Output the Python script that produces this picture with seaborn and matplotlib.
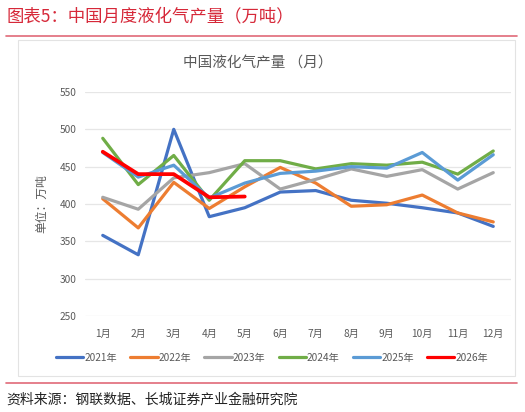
import matplotlib.pyplot as plt
import pandas as pd
import seaborn as sns
from matplotlib.patches import Rectangle
from matplotlib.lines import Line2D

months = ["1月", "2月", "3月", "4月", "5月", "6月", "7月", "8月", "9月", "10月", "11月", "12月"]
y2021 = [358, 332, 500, 383, 395, 416, 418, 405, 401, 395, 388, 370]
y2022 = [407, 368, 429, 394, 423, 449, 428, 397, 399, 412, 388, 376]
y2023 = [409, 393, 435, 442, 454, 420, 433, 447, 437, 446, 420, 442]
y2024 = [488, 426, 465, 405, 458, 458, 447, 454, 452, 456, 440, 471]
y2025 = [469, 436, 452, 408, 428, 441, 444, 450, 448, 469, 432, 466]
y2026 = [470, 440, 440, 409, 410]

series = {
    "2021年": y2021,
    "2022年": y2022,
    "2023年": y2023,
    "2024年": y2024,
    "2025年": y2025,
    "2026年": y2026,
}
palette = {
    "2021年": "#4472C4",
    "2022年": "#ED7D31",
    "2023年": "#A5A5A5",
    "2024年": "#70AD47",
    "2025年": "#5B9BD5",
    "2026年": "#FF0000",
}

rows = []
for year, values in series.items():
    for m, v in zip(months, values):
        rows.append({"月份": m, "产量": v, "年份": year})
df = pd.DataFrame(rows)

sns.set_theme(style="white")
plt.rcParams["font.family"] = ["Noto Sans CJK SC", "DejaVu Sans"]

fig = plt.figure(figsize=(5.25, 4.12), dpi=100)
W, H = 525, 412

# outer decorations
fig.text(6 / W, 1 - 16 / H, "图表5：中国月度液化气产量（万吨）", color="#D62839",
         fontsize=12.5, va="center", ha="left")
fig.add_artist(Line2D([6 / W, 517 / W], [1 - 36 / H, 1 - 36 / H], color="#E06A78", lw=1.2))
fig.add_artist(Rectangle((18 / W, 1 - 376 / H), (515 - 18) / W, (376 - 40) / H,
                         fill=False, edgecolor="#E3E3E3", lw=0.8))
fig.add_artist(Line2D([6 / W, 517 / W], [1 - 383 / H, 1 - 383 / H], color="#E06A78", lw=1.2))
fig.text(6 / W, 1 - 399 / H, "资料来源：钢联数据、长城证券产业金融研究院", color="#222222",
         fontsize=10, va="center", ha="left")

fig.text(258 / W, 1 - 64 / H, "中国液化气产量 （月）", color="#595959",
         fontsize=10.5, va="center", ha="center")

ax = fig.add_axes([85 / W, 1 - 316 / H, (511 - 85) / W, (316 - 92) / H])
sns.lineplot(data=df, x="月份", y="产量", hue="年份", palette=palette,
             sort=False, linewidth=2.3, ax=ax, legend=False)
ax.lines[-1].set_linewidth(2.7)

ax.set_xlim(-0.5, 11.5)
ax.set_ylim(250, 550)
ax.set_yticks(range(250, 551, 50))
ax.yaxis.grid(True, color="#E6E6E6", lw=0.9)
ax.xaxis.grid(False)
for s in ax.spines.values():
    s.set_visible(False)
ax.tick_params(axis="both", length=0, labelsize=7.3, colors="#595959", pad=6)
ax.tick_params(axis="x", pad=9)
ax.set_xlabel("")
ax.set_ylabel("单位：万吨", fontsize=8.5, color="#595959", labelpad=8)

handles = [Line2D([], [], color=palette[k], lw=2.3) for k in series]
fig.legend(handles, list(series.keys()), loc="center", bbox_to_anchor=(272 / W, 1 - 358 / H),
           ncol=6, frameon=False, fontsize=7.3, handlelength=2.7, handletextpad=0.1,
           columnspacing=1.3, labelcolor="#595959")

fig.savefig("out.png", dpi=100)
